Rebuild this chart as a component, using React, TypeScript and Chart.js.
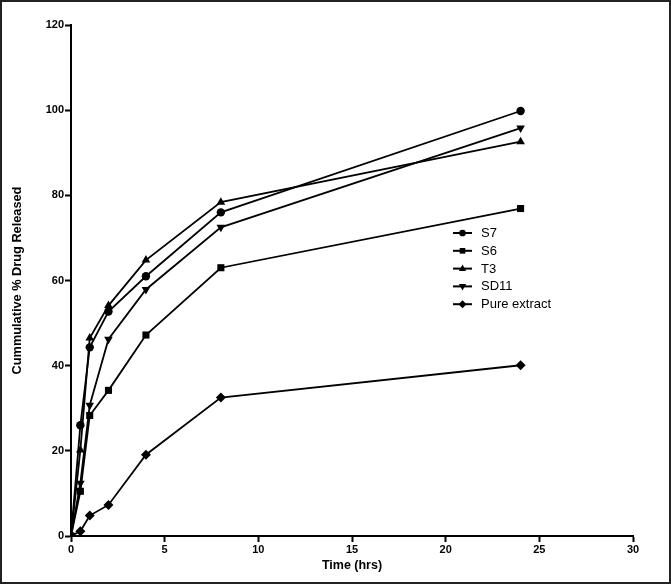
import React, { useEffect, useRef } from "react";
import { Chart, registerables } from "chart.js";

Chart.register(...registerables);

const times = [0, 0.5, 1, 2, 4, 8, 24];
const seriesNames = ["S7", "S6", "T3", "SD11", "Pure extract"];
const s7 = [0, 26.0, 44.3, 52.7, 61.0, 76.0, 99.8];
const s6 = [0, 10.5, 28.3, 34.2, 47.2, 63.0, 76.9];
const t3 = [0, 20.2, 46.5, 54.1, 64.8, 78.4, 92.6];
const sd11 = [0, 12.4, 30.7, 46.2, 57.9, 72.5, 95.8];
const pureExtract = [0, 1.1, 4.8, 7.3, 19.1, 32.5, 40.1];
const xTicks = [0, 5, 10, 15, 20, 25, 30];
const yTicks = [0, 20, 40, 60, 80, 100, 120];

const allValues = [s7, s6, t3, sd11, pureExtract];
const pointStyles = ["circle", "rect", "triangle", "triangle", "rectRot"];
const rotations = [0, 0, 0, 180, 0];
const radii = [4.2, 5, 5, 5, 5];

const FONT = "'Liberation Sans', Arial, sans-serif";

function drawMarker(ctx: CanvasRenderingContext2D, style: string, rot: number, r: number, x: number, y: number) {
  ctx.save();
  ctx.translate(x, y);
  ctx.rotate((rot * Math.PI) / 180);
  ctx.beginPath();
  if (style === "circle") {
    ctx.arc(0, 0, r, 0, Math.PI * 2);
  } else if (style === "rect") {
    const s = r * Math.SQRT1_2;
    ctx.rect(-s, -s, 2 * s, 2 * s);
  } else if (style === "rectRot") {
    ctx.moveTo(0, -r);
    ctx.lineTo(r, 0);
    ctx.lineTo(0, r);
    ctx.lineTo(-r, 0);
    ctx.closePath();
  } else if (style === "triangle") {
    ctx.moveTo(0, -r);
    ctx.lineTo(r * 0.9, r * 0.6);
    ctx.lineTo(-r * 0.9, r * 0.6);
    ctx.closePath();
  }
  ctx.fillStyle = "#000";
  ctx.fill();
  ctx.restore();
}

const legendPlugin = {
  id: "customLegend",
  afterDraw(chart: any) {
    const ctx = chart.ctx as CanvasRenderingContext2D;
    const x0 = 453;
    const y0 = 233;
    const dy = 17.8;
    ctx.save();
    chart.data.datasets.forEach((ds: any, i: number) => {
      const y = y0 + i * dy;
      ctx.strokeStyle = "#000";
      ctx.lineWidth = 2;
      ctx.beginPath();
      ctx.moveTo(x0, y);
      ctx.lineTo(x0 + 19, y);
      ctx.stroke();
      drawMarker(ctx, pointStyles[i], rotations[i], radii[i] * 0.8, x0 + 9.5, y);
      ctx.fillStyle = "#000";
      ctx.font = `13px ${FONT}`;
      ctx.textBaseline = "middle";
      ctx.textAlign = "left";
      ctx.fillText(ds.label, x0 + 28, y + 0.5);
    });
    ctx.restore();
  },
};

export default function App() {
  const ref = useRef<HTMLCanvasElement | null>(null);
  useEffect(() => {
    if (!ref.current) return;
    const datasets = seriesNames.map((name, i) => ({
      label: name,
      data: times.map((t, j) => ({ x: t, y: allValues[i][j] })),
      borderColor: "#000",
      backgroundColor: "#000",
      borderWidth: 1.8,
      pointStyle: pointStyles[i] as any,
      rotation: rotations[i],
      pointRadius: radii[i],
      pointBorderWidth: 0,
      pointBackgroundColor: "#000",
      tension: 0,
    }));
    const chart = new Chart(ref.current, {
      type: "line",
      data: { datasets },
      plugins: [legendPlugin],
      options: {
        animation: false,
        responsive: false,
        maintainAspectRatio: false,
        layout: { padding: { left: 0, top: 25, right: 38, bottom: 0 } },
        plugins: { legend: { display: false }, tooltip: { enabled: false } },
        scales: {
          x: {
            type: "linear",
            min: 0,
            max: 30,
            afterBuildTicks: (s: any) => {
              s.ticks = xTicks.map((v) => ({ value: v }));
            },
            afterFit: (s: any) => {
              s.height = 50;
            },
            grid: { drawOnChartArea: false, drawTicks: true, tickLength: 6, color: "#000", tickWidth: 2 },
            border: { display: true, color: "#000", width: 2 },
            ticks: {
              color: "#000",
              font: { family: FONT, size: 11, weight: "bold" },
              padding: 1,
              maxRotation: 0,
            },
            title: {
              display: true,
              text: "Time (hrs)",
              color: "#000",
              font: { family: FONT, size: 12.5, weight: "bold" },
              padding: { top: 2, bottom: 13 },
            },
          },
          y: {
            type: "linear",
            min: 0,
            max: 120,
            afterBuildTicks: (s: any) => {
              s.ticks = yTicks.map((v) => ({ value: v }));
            },
            afterFit: (s: any) => {
              s.width = 71;
            },
            grid: { drawOnChartArea: false, drawTicks: true, tickLength: 6, color: "#000", tickWidth: 2 },
            border: { display: true, color: "#000", width: 2 },
            ticks: {
              color: "#000",
              font: { family: FONT, size: 11, weight: "bold" },
              padding: 1,
            },
            title: {
              display: true,
              text: "Cummulative % Drug Released",
              color: "#000",
              font: { family: FONT, size: 12.75, weight: "bold" },
              padding: { top: 10, bottom: 0 },
            },
          },
        },
      },
    });
    return () => chart.destroy();
  }, []);
  return (
    <div
      style={{
        position: "absolute",
        left: 0,
        top: 0,
        width: 671,
        height: 586,
        background: "#fff",
      }}
    >
      <canvas ref={ref} width={671} height={586} style={{ display: "block" }} />
      <div
        style={{
          position: "absolute",
          left: 0,
          top: 0,
          width: 667,
          height: 580,
          border: "2px solid #222",
          pointerEvents: "none",
        }}
      />
    </div>
  );
}
